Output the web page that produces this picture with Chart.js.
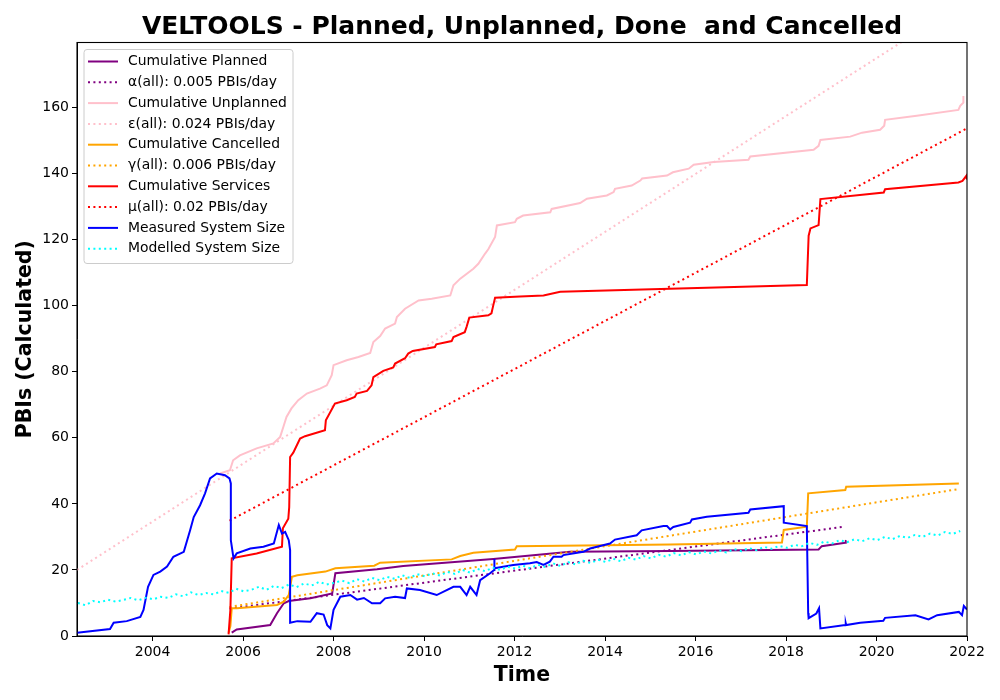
<!DOCTYPE html>
<html>
<head>
<meta charset="utf-8">
<script src="https://cdn.jsdelivr.net/npm/chart.js@4.4.1/dist/chart.umd.min.js"></script>
<style>
  html, body { margin: 0; padding: 0; background: #fff; }
  #wrap { width: 1000px; height: 700px; }
</style>
</head>
<body>
<div id="wrap"><canvas id="velChart" width="1000" height="700"></canvas></div>
<script>
// Data (x = decimal year, y = PBIs)
const xTicks = [2004, 2006, 2008, 2010, 2012, 2014, 2016, 2018, 2020, 2022];
const yTicks = [0, 20, 40, 60, 80, 100, 120, 140, 160];

const plannedYears = [2005.75, 2005.86, 2006.60, 2006.75, 2006.90, 2007.01, 2007.49, 2007.97, 2008.04, 2008.96, 2009.54, 2011.53, 2013.23, 2015.44, 2018.72, 2018.79, 2019.31, 2019.32, 2019.33];
const plannedValues = [1.0, 2.0, 3.3, 6.9, 9.9, 10.6, 11.4, 12.9, 19.0, 20.2, 21.2, 23.3, 25.5, 25.7, 26.2, 27.2, 28.2, 28.8, 29.0];

const unplannedYears = [2005.49, 2005.71, 2005.78, 2005.93, 2006.30, 2006.67, 2006.82, 2006.89, 2006.96, 2007.07, 2007.22, 2007.41, 2007.70, 2007.85, 2007.96, 2008.00, 2008.29, 2008.55, 2008.81, 2008.88, 2009.03, 2009.14, 2009.36, 2009.40, 2009.58, 2009.88, 2010.17, 2010.58, 2010.65, 2010.80, 2011.09, 2011.20, 2011.35, 2011.42, 2011.57, 2011.61, 2012.01, 2012.05, 2012.19, 2012.79, 2012.82, 2013.45, 2013.60, 2014.04, 2014.19, 2014.22, 2014.59, 2014.78, 2014.82, 2015.37, 2015.50, 2015.85, 2015.96, 2016.40, 2017.17, 2017.21, 2018.61, 2018.72, 2018.76, 2019.42, 2019.68, 2020.08, 2020.17, 2020.19, 2020.89, 2021.81, 2021.85, 2021.92, 2021.92];
const unplannedValues = [49.2, 50.2, 53.2, 54.7, 56.8, 58.3, 60.3, 63.3, 66.3, 68.9, 71.4, 73.4, 74.9, 75.9, 79.0, 82.0, 83.5, 84.5, 85.7, 89.0, 90.8, 93.1, 94.6, 96.6, 99.1, 101.6, 102.1, 103.1, 106.2, 108.2, 111.2, 112.7, 115.8, 117.1, 120.8, 124.3, 125.3, 126.3, 127.3, 128.3, 129.3, 131.1, 132.4, 133.4, 134.4, 135.4, 136.4, 137.9, 138.5, 139.4, 140.4, 141.5, 142.7, 143.5, 144.2, 145.2, 147.2, 148.4, 150.2, 151.2, 152.4, 153.3, 154.5, 156.3, 157.5, 159.3, 160.5, 161.5, 163.5];

const cancelledYears = [2005.68, 2005.72, 2005.75, 2005.86, 2006.75, 2006.90, 2007.01, 2007.08, 2007.20, 2007.82, 2008.04, 2008.90, 2009.03, 2010.61, 2010.80, 2011.09, 2012.01, 2012.05, 2015.44, 2017.91, 2017.95, 2018.46, 2018.49, 2019.31, 2019.33, 2021.82];
const cancelledValues = [1.0, 3.0, 8.4, 8.4, 9.4, 10.4, 12.4, 17.9, 18.4, 19.5, 20.5, 21.3, 22.2, 23.2, 24.2, 25.2, 26.2, 27.2, 27.7, 28.3, 32.1, 33.1, 43.2, 44.2, 45.2, 46.2];

const servicesYears = [2005.68, 2005.72, 2005.75, 2006.30, 2006.86, 2006.88, 2007.00, 2007.02, 2007.04, 2007.11, 2007.26, 2007.37, 2007.81, 2007.83, 2008.03, 2008.29, 2008.47, 2008.51, 2008.74, 2008.84, 2008.88, 2009.10, 2009.32, 2009.36, 2009.58, 2009.65, 2009.75, 2010.24, 2010.27, 2010.61, 2010.65, 2010.90, 2010.94, 2011.00, 2011.42, 2011.49, 2011.53, 2011.57, 2012.12, 2012.64, 2013.01, 2018.46, 2018.50, 2018.54, 2018.72, 2018.76, 2020.16, 2020.19, 2021.81, 2021.90, 2021.99, 2022.00];
const servicesValues = [0.5, 8.0, 23.5, 25.0, 27.0, 32.6, 35.5, 39.0, 54.2, 55.5, 59.8, 60.5, 62.3, 65.3, 70.4, 71.4, 72.4, 73.4, 74.2, 75.9, 78.4, 80.3, 81.3, 82.5, 84.1, 85.5, 86.3, 87.5, 88.3, 89.3, 90.5, 92.0, 93.6, 96.4, 97.1, 97.7, 100.1, 102.4, 102.8, 103.1, 104.2, 106.3, 121.2, 123.4, 124.4, 132.3, 134.3, 135.3, 137.3, 137.8, 139.4, 138.2];

const measuredYears = [2002.33, 2003.06, 2003.14, 2003.43, 2003.73, 2003.80, 2003.90, 2004.02, 2004.17, 2004.32, 2004.46, 2004.69, 2004.83, 2004.91, 2005.05, 2005.16, 2005.27, 2005.42, 2005.60, 2005.70, 2005.73, 2005.73, 2005.79, 2005.86, 2006.16, 2006.45, 2006.68, 2006.79, 2006.86, 2006.93, 2007.01, 2007.04, 2007.04, 2007.20, 2007.49, 2007.63, 2007.78, 2007.86, 2007.93, 2008.00, 2008.15, 2008.37, 2008.52, 2008.67, 2008.85, 2009.03, 2009.14, 2009.36, 2009.58, 2009.62, 2009.91, 2010.28, 2010.65, 2010.80, 2010.94, 2011.02, 2011.16, 2011.24, 2011.46, 2011.55, 2011.55, 2011.56, 2011.97, 2012.34, 2012.49, 2012.64, 2012.78, 2012.86, 2013.04, 2013.08, 2013.52, 2013.67, 2014.11, 2014.22, 2014.70, 2014.81, 2015.29, 2015.37, 2015.44, 2015.51, 2015.88, 2015.92, 2016.25, 2017.17, 2017.21, 2017.95, 2017.95, 2018.46, 2018.49, 2018.50, 2018.67, 2018.73, 2018.76, 2019.31, 2019.32, 2019.33, 2019.64, 2020.15, 2020.19, 2020.86, 2021.15, 2021.34, 2021.82, 2021.89, 2021.93, 2022.00];
const measuredValues = [1.0, 2.1, 4.0, 4.5, 5.8, 7.9, 14.9, 18.5, 19.5, 21.0, 24.0, 25.5, 32.0, 36.0, 39.6, 43.2, 47.7, 49.2, 48.7, 47.7, 46.2, 29.0, 23.5, 25.0, 26.5, 27.0, 28.0, 33.6, 31.0, 31.5, 29.0, 26.0, 4.0, 4.5, 4.3, 6.9, 6.5, 3.3, 2.3, 7.9, 11.9, 12.4, 11.0, 11.5, 9.9, 9.9, 11.4, 11.9, 11.5, 14.4, 13.9, 12.4, 14.9, 14.9, 12.4, 14.9, 12.4, 16.9, 19.0, 20.0, 23.3, 20.5, 21.5, 22.0, 22.4, 21.5, 22.5, 24.0, 24.0, 24.5, 25.5, 26.5, 28.0, 29.2, 30.5, 32.0, 33.3, 33.3, 32.3, 33.0, 34.3, 35.3, 36.1, 37.3, 38.3, 39.3, 34.3, 33.3, 6.9, 5.4, 6.8, 8.4, 2.3, 3.3, 3.9, 3.3, 4.0, 4.6, 5.5, 6.3, 5.0, 6.3, 7.3, 6.3, 9.1, 8.0];

// Modelled system size: one value every two months from 2002.35
const modelledStart = 2002.35;
const modelledStep = 1 / 6;
const modelledValues = [
  10.0, 9.3, 10.6, 10.2, 11.0, 10.4, 10.9, 11.5, 10.8, 11.6, 11.1, 11.9,
  11.5, 12.6, 12.0, 13.2, 12.4, 13.0, 12.6, 13.6, 13.1, 14.3, 13.5, 14.0,
  14.9, 14.0, 15.2, 14.5, 15.6, 14.8, 15.9, 15.3, 16.4, 15.6, 16.1, 16.8,
  16.0, 17.2, 16.5, 17.6, 16.9, 17.9, 17.3, 18.4, 17.6, 18.7, 18.1, 19.0,
  18.3, 19.4, 18.8, 20.0, 19.2, 20.3, 19.6, 20.7, 20.0, 21.0, 20.4, 21.3,
  20.5, 21.6, 20.9, 22.0, 21.2, 22.4, 21.7, 22.8, 22.1, 23.1, 22.4, 23.4,
  22.6, 23.7, 23.1, 24.2, 23.5, 24.6, 24.0, 25.1, 24.4, 25.4, 24.7, 25.6,
  25.0, 25.9, 25.3, 26.3, 25.7, 26.6, 26.0, 27.0, 26.4, 27.3, 26.7, 27.6,
  27.2, 28.2, 27.6, 28.6, 28.0, 29.0, 28.4, 29.3, 28.7, 29.6, 29.0, 30.0,
  29.3, 30.3, 29.7, 30.6, 30.0, 31.0, 30.4, 31.5, 30.9, 31.8
];

// Fitted rate lines (end points)
const alphaYears = [2005.70, 2019.30];
const alphaValues = [8.3, 33.1];
const epsilonYears = [2002.33, 2022.00];
const epsilonValues = [20.0, 192.5];
const gammaYears = [2005.70, 2021.82];
const gammaValues = [8.8, 44.5];
const muYears = [2005.70, 2022.00];
const muValues = [34.9, 153.7];

const FONT = "'DejaVu Sans', sans-serif";
const DOT = [2, 3.4];

function pts(xs, ys) {
  return xs.map((x, i) => ({ x: x, y: ys[i] }));
}

const series = [
  { label: "Cumulative Planned", data: pts(plannedYears, plannedValues), color: "#800080", dotted: false },
  { label: "\u03b1(all): 0.005 PBIs/day", data: pts(alphaYears, alphaValues), color: "#800080", dotted: true },
  { label: "Cumulative Unplanned", data: pts(unplannedYears, unplannedValues), color: "#ffc0cb", dotted: false },
  { label: "\u03b5(all): 0.024 PBIs/day", data: pts(epsilonYears, epsilonValues), color: "#ffc0cb", dotted: true },
  { label: "Cumulative Cancelled", data: pts(cancelledYears, cancelledValues), color: "#ffa500", dotted: false },
  { label: "\u03b3(all): 0.006 PBIs/day", data: pts(gammaYears, gammaValues), color: "#ffa500", dotted: true },
  { label: "Cumulative Services", data: pts(servicesYears, servicesValues), color: "#ff0000", dotted: false },
  { label: "\u03bc(all): 0.02 PBIs/day", data: pts(muYears, muValues), color: "#ff0000", dotted: true },
  { label: "Measured System Size", data: pts(measuredYears, measuredValues), color: "#0000ff", dotted: false },
  { label: "Modelled System Size", data: modelledValues.map((v, i) => ({ x: modelledStart + i * modelledStep, y: v })), color: "#00ffff", dotted: true }
];

// axes frame on all four sides
const framePlugin = {
  id: "frame",
  afterDatasetsDraw(chart) {
    const a = chart.chartArea, ctx = chart.ctx;
    ctx.save();
    ctx.strokeStyle = "#000";
    ctx.lineWidth = 1.1;
    ctx.strokeRect(a.left, a.top, a.right - a.left, a.bottom - a.top);
    ctx.restore();
  }
};

// matplotlib-like legend box in the upper left of the plot
const boxLegend = {
  id: "boxLegend",
  afterDraw(chart) {
    const ctx = chart.ctx, a = chart.chartArea;
    const x0 = a.left + 7, y0 = a.top + 7, w = 209, h = 214;
    ctx.save();
    ctx.beginPath();
    ctx.roundRect(x0, y0, w, h, 3);
    ctx.fillStyle = "rgba(255,255,255,0.8)";
    ctx.fill();
    ctx.strokeStyle = "#cccccc";
    ctx.lineWidth = 1;
    ctx.stroke();
    ctx.font = "13.9px " + FONT;
    ctx.textBaseline = "middle";
    series.forEach((s, i) => {
      const y = y0 + 12 + i * 20.8;
      ctx.beginPath();
      ctx.setLineDash(s.dotted ? DOT : []);
      ctx.lineCap = "butt";
      ctx.strokeStyle = s.color;
      ctx.lineWidth = 2;
      ctx.moveTo(x0 + 4, y);
      ctx.lineTo(x0 + 34, y);
      ctx.stroke();
      ctx.setLineDash([]);
      ctx.fillStyle = "#000";
      ctx.fillText(s.label, x0 + 44, y);
    });
    ctx.restore();
  }
};

new Chart(document.getElementById("velChart").getContext("2d"), {
  type: "line",
  data: {
    datasets: series.map((s, i) => ({
      label: s.label,
      data: s.data,
      borderColor: s.color,
      backgroundColor: s.color,
      borderWidth: 2,
      borderDash: s.dotted ? DOT : [],
      borderCapStyle: "butt",
      pointRadius: 0,
      tension: 0,
      fill: false,
      order: series.length - i
    }))
  },
  options: {
    responsive: false,
    animation: false,
    layout: { padding: { left: 0, right: 33, top: 0, bottom: 0 } },
    plugins: {
      legend: { display: false },
      tooltip: { enabled: false },
      title: {
        display: true,
        fullSize: false,
        text: "VELTOOLS - Planned, Unplanned, Done  and Cancelled",
        color: "#000",
        font: { family: FONT, size: 25, weight: "bold", lineHeight: 1.2 },
        padding: { top: 12.5, bottom: 0 }
      }
    },
    scales: {
      x: {
        type: "linear",
        min: 2002.33,
        max: 2022,
        afterBuildTicks: (s) => { s.ticks = xTicks.map(v => ({ value: v })); },
        afterFit: (s) => { s.height = 64; },
        ticks: {
          callback: (v) => String(v),
          color: "#000",
          font: { family: FONT, size: 14 },
          padding: 3,
          maxRotation: 0,
          autoSkip: false
        },
        grid: { drawOnChartArea: false, drawTicks: true, tickLength: 5, tickColor: "#000", tickWidth: 1 },
        border: { color: "#000", width: 1 },
        title: { display: true, text: "Time", color: "#000", font: { family: FONT, size: 20.5, weight: "bold" }, padding: { top: 2, bottom: 12 } }
      },
      y: {
        type: "linear",
        min: 0,
        max: 179.7,
        afterBuildTicks: (s) => { s.ticks = yTicks.map(v => ({ value: v })); },
        afterFit: (s) => { s.width = 77; },
        ticks: {
          callback: (v) => String(v),
          color: "#000",
          font: { family: FONT, size: 14 },
          padding: 3
        },
        grid: { drawOnChartArea: false, drawTicks: true, tickLength: 5, tickColor: "#000", tickWidth: 1 },
        border: { color: "#000", width: 1 },
        title: { display: true, text: "PBIs (Calculated)", color: "#000", font: { family: FONT, size: 20.5, weight: "bold" }, padding: { top: 13, bottom: 0 } }
      }
    }
  },
  plugins: [framePlugin, boxLegend]
});
</script>
</body>
</html>
